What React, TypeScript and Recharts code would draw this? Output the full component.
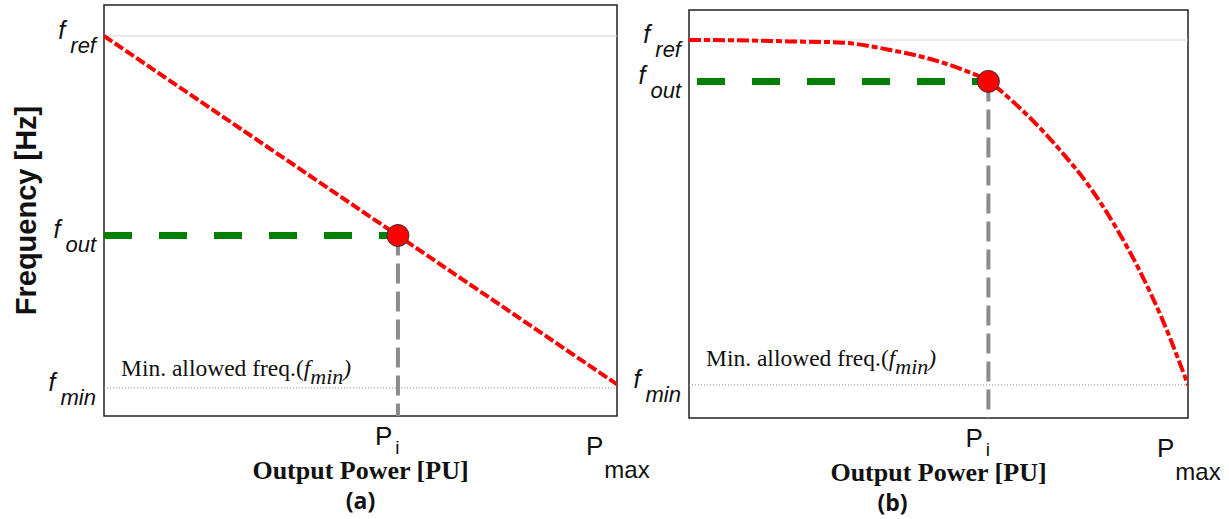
import { ComposedChart, Line, XAxis, YAxis, ReferenceLine, ReferenceDot, ReferenceArea } from "recharts"

// (a) linear droop: frequency falls straight from f_ref to f_min
const linearPower = [0, 1]
const linearFreq = [1, 0.01]
const linearPi = 0.573
const linearFout = 0.433

// (b) nonlinear droop: flat near f_ref, steep near P_max
const curvePower = [0, 0.1, 0.2, 0.3, 0.4, 0.5, 0.55, 0.6, 0.65, 0.7, 0.75, 0.8, 0.85, 0.9, 0.95, 1]
const curveFreq = [1, 0.999, 0.996, 0.993, 0.972, 0.938, 0.913, 0.88, 0.82, 0.75, 0.67, 0.58, 0.47, 0.34, 0.185, 0]
const curvePi = 0.6
const curveFout = 0.88

const F_REF = 1
const F_MIN = 0
const P_MAX = 1

const sansFont = "'Liberation Sans', Arial, sans-serif"
const serifFont = "'Liberation Serif', 'Times New Roman', serif"

const toRows = (p: number[], f: number[]) => p.map((x, i) => ({ p: x, f: f[i] }))

const FreqTick = ({ x, y, payload }: any) => {
  const v = payload.value
  const sub = v === F_REF ? "ref" : v === F_MIN ? "min" : "out"
  return (
    <text x={x} y={y + 3} textAnchor="end" fontFamily={sansFont} fontStyle="italic" fill="#111">
      <tspan fontSize={25}>f</tspan>
      <tspan fontSize={22} dx={5} dy={14}>{sub}</tspan>
    </text>
  )
}

const PowerTick = ({ x, y, payload }: any) => {
  const isMax = payload.value === P_MAX
  return (
    <text x={isMax ? x - 31 : x - 23} y={y + (isMax ? 39 : 29)} fontFamily={sansFont} fill="#111">
      <tspan fontSize={26}>P</tspan>
      <tspan fontSize={isMax ? 24 : 19} dx={isMax ? 1 : 3} dy={isMax ? 23 : 9}>
        {isMax ? "max" : "i"}
      </tspan>
    </text>
  )
}

const MinLabel = ({ viewBox, dy }: any) => {
  const x = (viewBox?.x ?? 0) + 17
  const y = (viewBox?.y ?? 0) + dy
  return (
    <text x={x} y={y} fontFamily={serifFont} fontSize={23.5} fill="#111">
      Min. allowed freq.(
      <tspan fontStyle="italic">f</tspan>
      <tspan fontStyle="italic" fontSize={22} dy={8}>min</tspan>
      <tspan fontStyle="italic" dy={-8}>)</tspan>
    </text>
  )
}

const PowerTitle = ({ viewBox, caption, captionDx }: any) => {
  const cx = (viewBox?.x ?? 0) + (viewBox?.width ?? 0) / 2
  const y = viewBox?.y ?? 0
  return (
    <g>
      <text x={cx} y={y + 63} textAnchor="middle" fontFamily={serifFont} fontWeight="bold" fontSize={26} fill="#111">
        Output Power [PU]
      </text>
      <text
        x={cx + captionDx}
        y={y + 93}
        textAnchor="middle"
        fontFamily="'Open Sans', sans-serif"
        fontWeight="bold"
        fontSize={23}
        fill="#111"
      >
        {caption}
      </text>
    </g>
  )
}

const FreqTitle = ({ viewBox }: any) => {
  const cy = (viewBox?.y ?? 0) + (viewBox?.height ?? 0) / 2
  return (
    <text
      x={36}
      y={cy}
      transform={`rotate(-90, 36, ${cy})`}
      textAnchor="middle"
      fontFamily={sansFont}
      fontWeight="bold"
      fontSize={29}
      fill="#111"
    >
      Frequency [Hz]
    </text>
  )
}

interface PanelProps {
  power: number[]
  freq: number[]
  pi: number
  fOut: number
  greenStart: number
  yDomain: [number, number]
  curve: "linear" | "monotone"
  redDash: string
  width: number
  margin: { top: number; right: number; bottom: number; left: number }
  minDy: number
  caption: string
  captionDx: number
  showTitle?: boolean
}

const DroopPanel = (props: PanelProps) => {
  const { power, freq, pi, fOut, greenStart, yDomain, curve, redDash, width, margin, minDy, caption, captionDx, showTitle } = props
  const droop = toRows(power, freq)
  const outLevel = [
    { p: greenStart, f: fOut },
    { p: pi, f: fOut },
  ]
  const piDrop = [
    { p: pi, f: fOut },
    { p: pi, f: yDomain[0] },
  ]

  return (
    <ComposedChart width={width} height={519} margin={margin}>
      <XAxis
        type="number"
        dataKey="p"
        domain={[0, P_MAX]}
        allowDataOverflow
        ticks={[pi, P_MAX]}
        tick={(t: any) => <PowerTick {...t} />}
        tickLine={false}
        axisLine={false}
        tickSize={0}
        tickMargin={0}
        height={1}
        label={(l: any) => <PowerTitle {...l} caption={caption} captionDx={captionDx} />}
      />
      <YAxis
        type="number"
        dataKey="f"
        domain={yDomain}
        allowDataOverflow
        ticks={[F_MIN, fOut, F_REF]}
        tick={(t: any) => <FreqTick {...t} />}
        tickLine={false}
        axisLine={false}
        tickSize={0}
        tickMargin={8}
        width={1}
        label={showTitle ? (l: any) => <FreqTitle {...l} /> : undefined}
      />
      <ReferenceLine y={F_REF} stroke="#d6d6d6" strokeWidth={1} />
      <ReferenceLine
        y={F_MIN}
        stroke="#8a8a8a"
        strokeWidth={1}
        strokeDasharray="1 2"
        label={(l: any) => <MinLabel {...l} dy={minDy} />}
      />
      <ReferenceArea
        x1={0}
        x2={P_MAX}
        y1={yDomain[0]}
        y2={yDomain[1]}
        ifOverflow="visible"
        fill="none"
        stroke="#222"
        strokeWidth={1.5}
      />
      <Line
        data={piDrop}
        dataKey="f"
        type="linear"
        stroke="#8c8c8c"
        strokeWidth={4}
        strokeDasharray="20 8"
        dot={false}
        activeDot={false}
        isAnimationActive={false}
      />
      <Line
        data={outLevel}
        dataKey="f"
        type="linear"
        stroke="#008000"
        strokeWidth={7}
        strokeDasharray="28 27"
        dot={false}
        activeDot={false}
        isAnimationActive={false}
      />
      <Line
        data={droop}
        dataKey="f"
        type={curve}
        stroke="#ff0000"
        strokeWidth={4}
        strokeDasharray={redDash}
        dot={false}
        activeDot={false}
        isAnimationActive={false}
      />
      <ReferenceDot x={pi} y={fOut} r={11} fill="#ff0000" stroke="#333" strokeWidth={1} ifOverflow="visible" />
    </ComposedChart>
  )
}

export default function App() {
  return (
    <div style={{ position: "absolute", left: 0, top: 0, width: 1229, height: 519, background: "#fff", overflow: "hidden" }}>
      <div style={{ position: "absolute", left: 0, top: 0 }}>
        <DroopPanel
          power={linearPower}
          freq={linearFreq}
          pi={linearPi}
          fOut={linearFout}
          greenStart={0}
          yDomain={[-0.08, 1.088]}
          curve="linear"
          redDash="10 3"
          width={660}
          margin={{ top: 5, right: 43, bottom: 102, left: 103 }}
          minDy={-12}
          caption="(a)"
          captionDx={0}
          showTitle
        />
      </div>
      <div style={{ position: "absolute", left: 620, top: 0 }}>
        <DroopPanel
          power={curvePower}
          freq={curveFreq}
          pi={curvePi}
          fOut={curveFout}
          greenStart={0.016}
          yDomain={[-0.096, 1.087]}
          curve="monotone"
          redDash="12 3 6 3"
          width={609}
          margin={{ top: 10, right: 41, bottom: 100, left: 68 }}
          minDy={-19}
          caption="(b)"
          captionDx={-46}
        />
      </div>
    </div>
  )
}
